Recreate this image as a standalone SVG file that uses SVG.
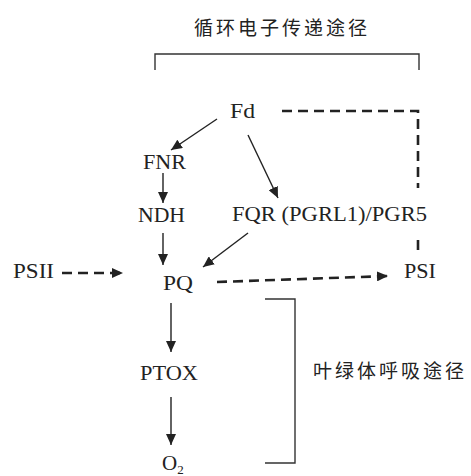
<svg xmlns="http://www.w3.org/2000/svg" width="471" height="476" viewBox="0 0 471 476">
<style>
.t{font-family:"Liberation Serif","Times New Roman",serif;font-size:21px;fill:#222}
.c{font-family:"Noto Sans CJK SC","Noto Sans",sans-serif;font-size:19px;letter-spacing:3px;fill:#222}
.s{fill:none;stroke:#222;stroke-width:1.4}
.d{fill:none;stroke:#222;stroke-width:2.6;stroke-dasharray:10 6}
.b{fill:none;stroke:#333;stroke-width:1.4}
</style>
<defs>
<marker id="ah" markerUnits="userSpaceOnUse" markerWidth="12" markerHeight="10" refX="11" refY="5" orient="auto">
<path d="M0,0 L11,5 L0,10 z" fill="#222"/>
</marker>
<marker id="ahd" markerUnits="userSpaceOnUse" markerWidth="12" markerHeight="10" refX="11" refY="5" orient="auto">
<path d="M0,0 L11,5 L0,10 z" fill="#222"/>
</marker>
</defs>
<rect width="471" height="476" fill="#fff"/>
<g id="brackets">
<path class="b" d="M155,70 V54 H419 V70"/>
<path class="b" d="M265,299 H295 V463 H265"/>
</g>
<g id="label-cyclic"><text class="c" x="194" y="35">循环电子传递途径</text></g>
<g id="label-resp"><text class="c" x="313" y="378">叶绿体呼吸途径</text></g>
<g id="connectors">
<line class="s" x1="217" y1="119" x2="171" y2="150" marker-end="url(#ah)"/>
<line class="s" x1="248" y1="135" x2="278" y2="198" marker-end="url(#ah)"/>
<line class="s" x1="163" y1="173" x2="163" y2="203" marker-end="url(#ah)"/>
<line class="s" x1="163" y1="233" x2="163" y2="265" marker-end="url(#ah)"/>
<line class="s" x1="248" y1="233" x2="203" y2="267" marker-end="url(#ah)"/>
<line class="s" x1="171" y1="303" x2="171" y2="352" marker-end="url(#ah)"/>
<line class="s" x1="171" y1="397" x2="171" y2="445" marker-end="url(#ah)"/>
<line class="d" x1="62" y1="273" x2="123" y2="273" marker-end="url(#ahd)"/>
<line class="d" x1="217" y1="282" x2="388" y2="276" marker-end="url(#ahd)"/>
<path class="d" d="M282,111 H418 V188"/>
<path class="d" d="M418,240 V250"/>
</g>
<g id="Fd"><text class="t" x="230" y="118" textLength="25" lengthAdjust="spacingAndGlyphs">Fd</text></g>
<g id="FNR"><text class="t" x="143" y="169" textLength="43" lengthAdjust="spacingAndGlyphs">FNR</text></g>
<g id="NDH"><text class="t" x="138" y="222" textLength="47" lengthAdjust="spacingAndGlyphs">NDH</text></g>
<g id="FQR"><text class="t" x="232" y="221" textLength="195" lengthAdjust="spacingAndGlyphs">FQR (PGRL1)/PGR5</text></g>
<g id="PSII"><text class="t" x="13" y="278" textLength="41" lengthAdjust="spacingAndGlyphs">PSII</text></g>
<g id="PQ"><text class="t" x="163" y="290" textLength="30" lengthAdjust="spacingAndGlyphs">PQ</text></g>
<g id="PSI"><text class="t" x="404" y="278" textLength="32" lengthAdjust="spacingAndGlyphs">PSI</text></g>
<g id="PTOX"><text class="t" x="140" y="380" textLength="58" lengthAdjust="spacingAndGlyphs">PTOX</text></g>
<g id="O2"><text class="t" x="162" y="470">O<tspan font-size="13" dy="4">2</tspan></text></g>
</svg>
